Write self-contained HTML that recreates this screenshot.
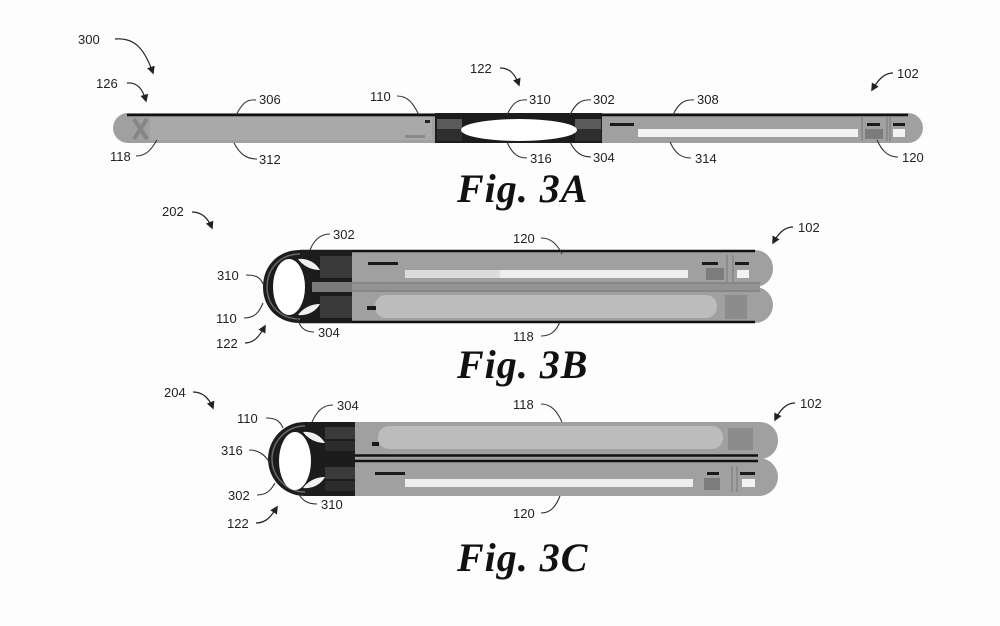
<!DOCTYPE html>
<html><head><meta charset="utf-8"><style>
html,body{margin:0;padding:0;background:#fdfdfd;}
svg{display:block;}
text.l{font-family:"Liberation Sans",Arial,sans-serif;font-size:13px;fill:#222;}
text.cap{font-family:"Liberation Serif",serif;font-style:italic;font-weight:bold;font-size:40px;fill:#111;letter-spacing:1px;}
.ld{fill:none;stroke:#333;stroke-width:1.1;}
.ar{fill:none;stroke:#222;stroke-width:1.2;}
</style></head><body>
<svg width="1000" height="626" viewBox="0 0 1000 626" xmlns="http://www.w3.org/2000/svg">
<defs>
<marker id="ah" viewBox="0 0 10 10" refX="8" refY="5" markerWidth="8" markerHeight="8" markerUnits="userSpaceOnUse" orient="auto"><path d="M0,0 L10,5 L0,10 z" fill="#222"/></marker>
</defs>
<rect width="1000" height="626" fill="#fdfdfd"/>

<!-- ================= FIG 3A ================= -->
<rect x="113" y="113" width="810" height="30" rx="15" fill="#a0a0a0"/>
<rect x="150" y="117" width="282" height="23" fill="#a9a9a9"/>
<path d="M134 119 L147 139 M147 119 L134 139" stroke="#868686" stroke-width="4"/>
<rect x="425" y="120" width="5" height="3" fill="#222"/>
<rect x="405" y="135" width="20" height="3" fill="#8a8a8a"/>
<line x1="127" y1="115" x2="908" y2="115" stroke="#111" stroke-width="2.5"/>
<!-- hinge 3A -->
<rect x="435" y="113" width="167" height="30" fill="#1c1c1c"/>
<rect x="437" y="119" width="25" height="10" fill="#5a5a5a"/>
<rect x="437" y="129" width="25" height="12" fill="#2e2e2e"/>
<rect x="575" y="119" width="26" height="10" fill="#5a5a5a"/>
<rect x="575" y="129" width="26" height="12" fill="#2e2e2e"/>
<ellipse cx="519" cy="130" rx="58" ry="11" fill="#fff"/>
<!-- right panel 3A -->
<rect x="638" y="129" width="220" height="8" fill="#f2f2f2"/>
<rect x="610" y="123" width="24" height="3" fill="#1a1a1a"/>
<rect x="867" y="123" width="13" height="3" fill="#1a1a1a"/>
<rect x="893" y="123" width="12" height="3" fill="#1a1a1a"/>
<rect x="893" y="129" width="12" height="8" fill="#f2f2f2"/>
<line x1="862" y1="117" x2="862" y2="141" stroke="#777" stroke-width="1"/>
<line x1="887" y1="117" x2="887" y2="141" stroke="#777" stroke-width="1"/>
<line x1="890" y1="117" x2="890" y2="141" stroke="#777" stroke-width="1"/>
<rect x="865" y="129" width="18" height="10" fill="#7c7c7c"/>

<!-- labels 3A -->
<text class="l" x="78" y="44">300</text>
<path class="ar" d="M115 39 C135 37 145 50 153 73" marker-end="url(#ah)"/>
<text class="l" x="96" y="88">126</text>
<path class="ar" d="M127 83 C138 82 143 90 146 101" marker-end="url(#ah)"/>
<text class="l" x="259" y="104">306</text>
<path class="ld" d="M256 100 C246 99 242 104 236 115"/>
<text class="l" x="370" y="101">110</text>
<path class="ld" d="M397 96 C408 96 413 103 419 115"/>
<text class="l" x="470" y="73">122</text>
<path class="ar" d="M500 68 C510 68 515 74 519 85" marker-end="url(#ah)"/>
<text class="l" x="529" y="104">310</text>
<path class="ld" d="M527 100 C517 99 512 104 507 115"/>
<text class="l" x="593" y="104">302</text>
<path class="ld" d="M591 100 C581 99 575 104 570 115"/>
<text class="l" x="697" y="104">308</text>
<path class="ld" d="M694 100 C684 99 678 104 673 115"/>
<text class="l" x="897" y="78">102</text>
<path class="ar" d="M893 73 C884 73 878 80 872 90" marker-end="url(#ah)"/>
<text class="l" x="110" y="161">118</text>
<path class="ld" d="M136 156 C146 156 151 150 157 140"/>
<text class="l" x="259" y="164">312</text>
<path class="ld" d="M257 159 C246 159 240 154 234 143"/>
<text class="l" x="530" y="163">316</text>
<path class="ld" d="M527 158 C517 158 512 153 507 142"/>
<text class="l" x="593" y="162">304</text>
<path class="ld" d="M591 157 C581 157 575 152 570 142"/>
<text class="l" x="695" y="163">314</text>
<path class="ld" d="M691 158 C681 158 675 153 670 142"/>
<text class="l" x="902" y="162">120</text>
<path class="ld" d="M898 157 C888 157 882 151 877 140"/>
<text class="cap" x="457" y="202">Fig. 3A</text>

<!-- ================= FIG 3B ================= -->
<rect x="290" y="250" width="483" height="37" rx="18" fill="#a0a0a0"/>
<rect x="290" y="287" width="483" height="36" rx="18" fill="#a0a0a0"/>
<rect x="340" y="282" width="420" height="10" fill="#939393"/>
<line x1="340" y1="283" x2="760" y2="283" stroke="#7a7a7a" stroke-width="1"/>
<line x1="340" y1="291" x2="760" y2="291" stroke="#7a7a7a" stroke-width="1"/>
<line x1="300" y1="251" x2="755" y2="251" stroke="#111" stroke-width="2.5"/>
<line x1="300" y1="322" x2="755" y2="322" stroke="#111" stroke-width="2.5"/>
<!-- top panel contents -->
<rect x="405" y="270" width="283" height="8" fill="#eeeeee"/>
<rect x="405" y="270" width="95" height="8" fill="#dcdcdc"/>
<rect x="368" y="262" width="30" height="3" fill="#1a1a1a"/>
<rect x="702" y="262" width="16" height="3" fill="#1a1a1a"/>
<rect x="735" y="262" width="14" height="3" fill="#1a1a1a"/>
<rect x="737" y="270" width="12" height="8" fill="#f2f2f2"/>
<rect x="706" y="268" width="18" height="12" fill="#7c7c7c"/>
<line x1="727" y1="255" x2="727" y2="282" stroke="#777"/>
<line x1="733" y1="255" x2="733" y2="282" stroke="#777"/>
<!-- bottom panel contents -->
<rect x="375" y="295" width="342" height="23" rx="11" fill="#bcbcbc"/>
<rect x="367" y="306" width="9" height="4" fill="#1a1a1a"/>
<rect x="725" y="295" width="22" height="24" fill="#8c8c8c"/>
<!-- hinge 3B -->
<path d="M352 250 L300 250 C278 250 263 266 263 287 C263 308 278 323 300 323 L352 323 Z" fill="#1c1c1c"/>
<path d="M300 254 C281 254 267 268 267 287 C267 306 281 319 300 319" fill="none" stroke="#6a6a6a" stroke-width="1.5"/>
<rect x="320" y="256" width="32" height="22" fill="#3a3a3a"/>
<rect x="320" y="296" width="32" height="22" fill="#3a3a3a"/>
<rect x="312" y="282" width="40" height="10" fill="#7a7a7a"/>
<path d="M305 287 C303 284 306 282 312 282 L312 292 C306 292 303 290 305 287 Z" fill="#1c1c1c"/>
<ellipse cx="289" cy="287" rx="16" ry="28" fill="#fff"/>
<path d="M298 259 C308 258 316 263 320 270 C311 270 303 266 298 259 Z" fill="#f0f0f0"/>
<path d="M298 315 C308 316 316 311 320 304 C311 304 303 308 298 315 Z" fill="#f0f0f0"/>
<!-- labels 3B -->
<text class="l" x="162" y="216">202</text>
<path class="ar" d="M192 212 C202 212 208 218 212 228" marker-end="url(#ah)"/>
<text class="l" x="333" y="239">302</text>
<path class="ld" d="M330 234 C320 234 314 240 310 250"/>
<text class="l" x="217" y="280">310</text>
<path class="ld" d="M246 275 C256 275 260 277 263 284"/>
<text class="l" x="216" y="323">110</text>
<path class="ld" d="M244 318 C254 318 259 313 263 303"/>
<text class="l" x="318" y="337">304</text>
<path class="ld" d="M314 332 C304 332 300 327 297 318"/>
<text class="l" x="216" y="348">122</text>
<path class="ar" d="M245 343 C255 343 260 335 265 326" marker-end="url(#ah)"/>
<text class="l" x="513" y="243">120</text>
<path class="ld" d="M541 238 C551 238 557 244 562 254"/>
<text class="l" x="798" y="232">102</text>
<path class="ar" d="M793 227 C784 227 778 234 773 243" marker-end="url(#ah)"/>
<text class="l" x="513" y="341">118</text>
<path class="ld" d="M541 336 C551 336 556 331 560 322"/>
<text class="cap" x="457" y="378">Fig. 3B</text>

<!-- ================= FIG 3C ================= -->
<rect x="295" y="422" width="483" height="37" rx="18" fill="#a0a0a0"/>
<rect x="295" y="458" width="483" height="38" rx="19" fill="#a0a0a0"/>
<!-- top panel -->
<rect x="378" y="426" width="345" height="23" rx="11" fill="#bcbcbc"/>
<rect x="372" y="442" width="7" height="4" fill="#1a1a1a"/>
<rect x="728" y="428" width="25" height="22" fill="#8c8c8c"/>
<!-- double lines -->
<line x1="300" y1="455.5" x2="758" y2="455.5" stroke="#111" stroke-width="2.5"/>
<line x1="300" y1="461" x2="758" y2="461" stroke="#111" stroke-width="2.5"/>
<!-- bottom panel -->
<rect x="405" y="479" width="288" height="8" fill="#eeeeee"/>
<rect x="375" y="472" width="30" height="3" fill="#1a1a1a"/>
<rect x="707" y="472" width="12" height="3" fill="#1a1a1a"/>
<rect x="740" y="472" width="15" height="3" fill="#1a1a1a"/>
<rect x="742" y="479" width="13" height="8" fill="#f2f2f2"/>
<rect x="704" y="478" width="16" height="12" fill="#7c7c7c"/>
<line x1="732" y1="466" x2="732" y2="492" stroke="#777"/>
<line x1="737" y1="466" x2="737" y2="492" stroke="#777"/>
<!-- hinge 3C -->
<path d="M355 422 L305 422 C283 422 268 440 268 459 C268 478 283 496 305 496 L355 496 Z" fill="#1c1c1c"/>
<path d="M305 426 C286 426 272 442 272 459 C272 476 286 492 305 492" fill="none" stroke="#6a6a6a" stroke-width="1.5"/>
<rect x="325" y="427" width="30" height="12" fill="#3a3a3a"/>
<rect x="325" y="441" width="30" height="10" fill="#2c2c2c"/>
<rect x="325" y="467" width="30" height="12" fill="#3a3a3a"/>
<rect x="325" y="481" width="30" height="10" fill="#2c2c2c"/>
<ellipse cx="295" cy="461" rx="16" ry="29" fill="#fff"/>
<path d="M303 432 C313 431 321 436 325 443 C316 443 308 439 303 432 Z" fill="#f0f0f0"/>
<path d="M303 488 C313 489 321 484 325 477 C316 477 308 481 303 488 Z" fill="#f0f0f0"/>
<!-- labels 3C -->
<text class="l" x="164" y="397">204</text>
<path class="ar" d="M193 392 C203 392 209 398 213 408" marker-end="url(#ah)"/>
<text class="l" x="337" y="410">304</text>
<path class="ld" d="M333 405 C323 405 317 411 312 422"/>
<text class="l" x="237" y="423">110</text>
<path class="ld" d="M266 418 C276 418 280 421 283 428"/>
<text class="l" x="221" y="455">316</text>
<path class="ld" d="M249 450 C259 450 265 455 270 463"/>
<text class="l" x="228" y="500">302</text>
<path class="ld" d="M257 495 C267 495 271 490 275 483"/>
<text class="l" x="321" y="509">310</text>
<path class="ld" d="M317 504 C307 504 302 500 298 493"/>
<text class="l" x="227" y="528">122</text>
<path class="ar" d="M256 523 C267 523 272 515 277 507" marker-end="url(#ah)"/>
<text class="l" x="513" y="409">118</text>
<path class="ld" d="M541 404 C551 404 557 411 562 422"/>
<text class="l" x="800" y="408">102</text>
<path class="ar" d="M795 403 C786 403 780 410 775 420" marker-end="url(#ah)"/>
<text class="l" x="513" y="518">120</text>
<path class="ld" d="M541 513 C551 513 556 506 560 496"/>
<text class="cap" x="457" y="571">Fig. 3C</text>
</svg>
</body></html>
